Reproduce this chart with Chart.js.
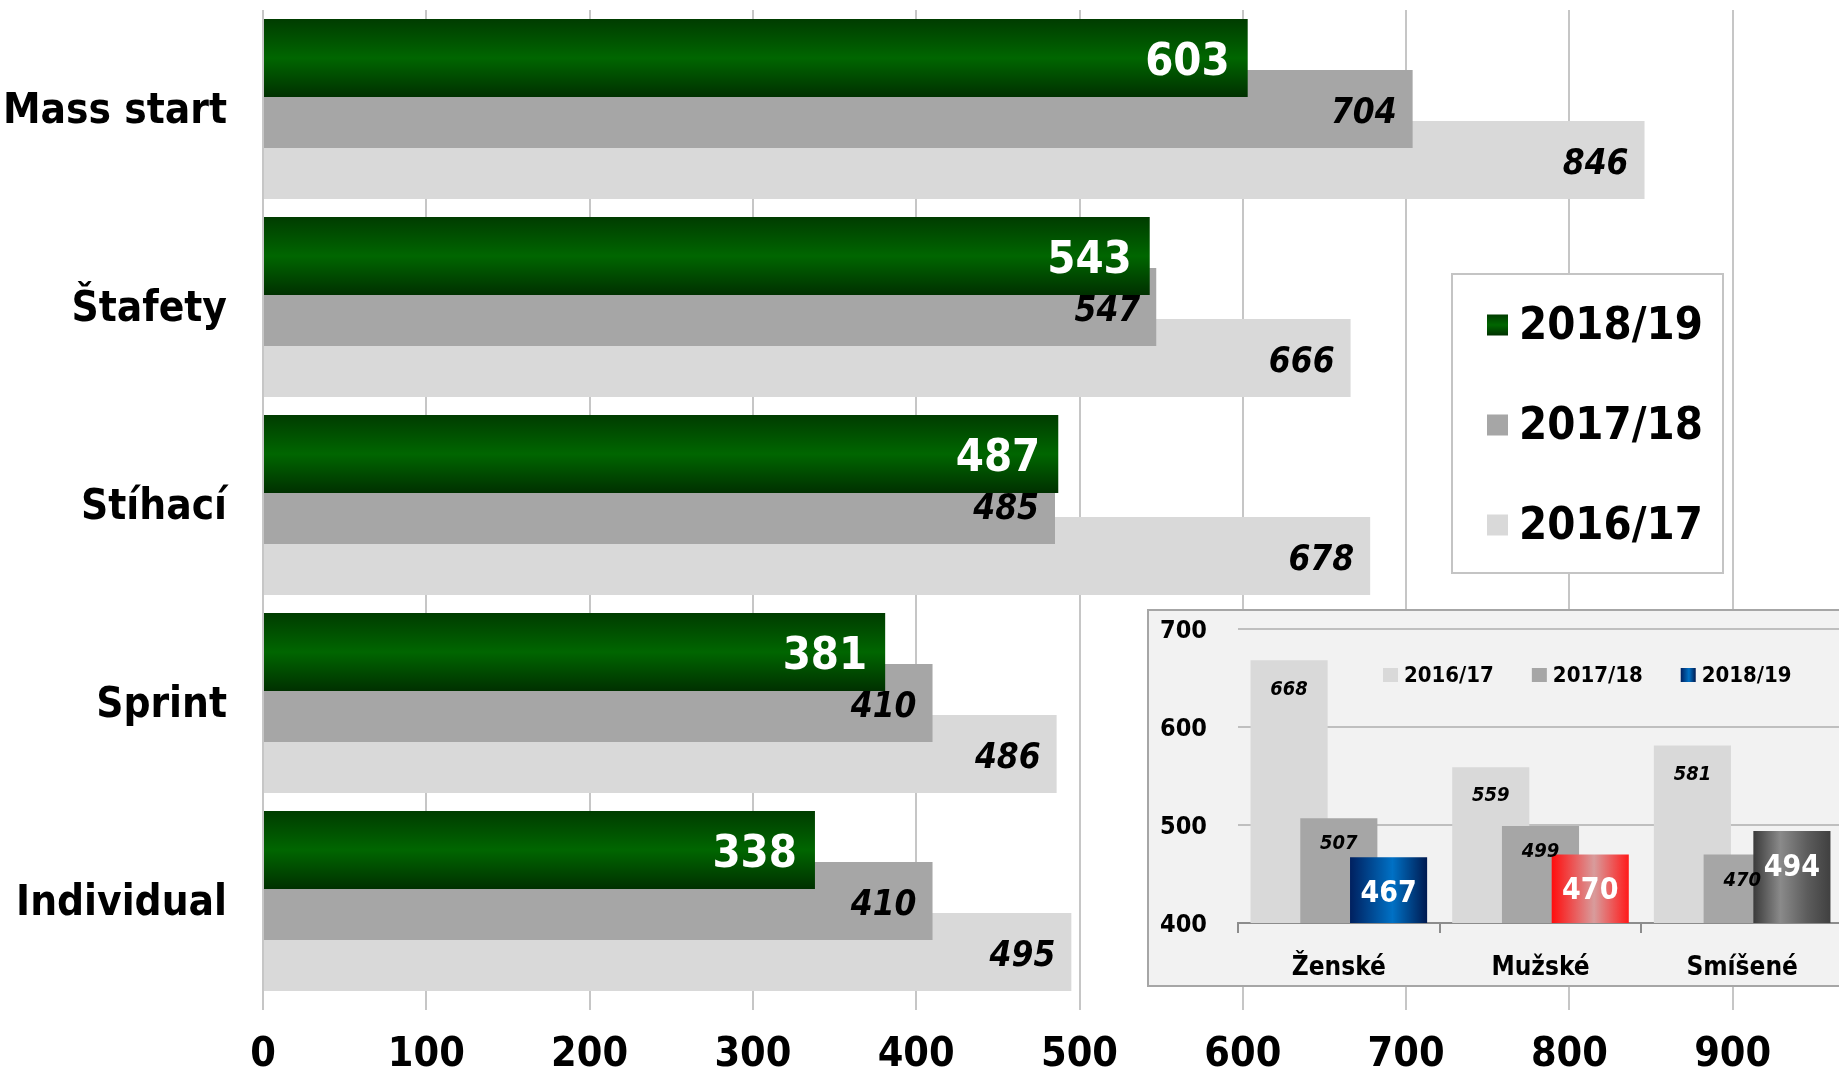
<!DOCTYPE html>
<html>
<head>
<meta charset="utf-8">
<script src="https://cdn.jsdelivr.net/npm/chart.js@4.4.0/dist/chart.umd.min.js"></script>
<style>
  html, body { margin: 0; padding: 0; background: #fff; overflow: hidden; }
  #main { position: absolute; left: 0; top: 0; width: 1905px; height: 1068px; }
  #insetBox { position: absolute; left: 1147px; top: 609px; width: 700px; height: 378px;
              box-sizing: border-box; border: 2px solid #a6a6a6; background: #f2f2f2; }
  #inset { position: absolute; left: 0; top: 0; width: 696px; height: 374px; }
</style>
</head>
<body>
<div id="main"><canvas id="mainChart"></canvas></div>
<div id="insetBox"><div id="inset"><canvas id="insetChart"></canvas></div></div>
<script>
// hlavni graf - disciplíny
const categories = ["Mass start", "Štafety", "Stíhací", "Sprint", "Individual"];
const seasons = ["2018/19", "2017/18", "2016/17"];
const s1819 = [603, 543, 487, 381, 338];
const s1718 = [704, 547, 485, 410, 410];
const s1617 = [846, 666, 678, 486, 495];
const xTicksMax = 1000;

// maly graf - ženské / mužské / smíšené
const insetCategories = ["Ženské", "Mužské", "Smíšené"];
const insetSeasons = ["2016/17", "2017/18", "2018/19"];
const in1617 = [668, 559, 581];
const in1718 = [507, 499, 470];
const in1819 = [467, 470, 494];

const FONT = '"DejaVu Sans Condensed", "DejaVu Sans", sans-serif';

const GREEN_STOPS = [[0, "#003c00"], [0.5, "#006600"], [1, "#003000"]];
const INSET_STOPS = [
    [[0, "#00205f"], [0.55, "#0071c5"], [1, "#001a50"]],
    [[0, "#ff0d0d"], [0.55, "#d89c9c"], [1, "#ff1a1a"]],
    [[0, "#3a3a3a"], [0.35, "#8a8a8a"], [0.7, "#5c5c5c"], [1, "#404040"]]
];

function makeGrad(ctx, x0, y0, x1, y1, stops) {
    const g = ctx.createLinearGradient(x0, y0, x1, y1);
    stops.forEach(s => g.addColorStop(s[0], s[1]));
    return g;
}

// pozice sloupce podle osy (stejny vypocet jako Chart.js grouped bars)
function barSpan(chart, axisId, dsIndex, dataIndex, nSets, catPct, barPct) {
    const scale = chart.scales[axisId];
    const len = scale.isHorizontal() ? scale.width : scale.height;
    const slot = len / scale.getLabels().length;
    const chunk = slot * catPct / nSets;
    const center = scale.getPixelForValue(dataIndex) + (dsIndex - (nSets - 1) / 2) * chunk;
    const size = chunk * barPct;
    return [center - size / 2, center + size / 2];
}

const MAIN_CAT = 0.7727, MAIN_BAR = 1.529;
const INSET_CAT = 0.74, INSET_BAR = 1.55;

const mainLabels = {
    id: "mainLabels",
    afterDatasetsDraw(chart) {
        const ctx = chart.ctx;
        ctx.save();
        ctx.textAlign = "right";
        ctx.textBaseline = "middle";
        chart.data.datasets.forEach((ds, i) => {
            const meta = chart.getDatasetMeta(i);
            ctx.font = i === 0 ? `bold 45px ${FONT}` : `italic bold 35px ${FONT}`;
            ctx.fillStyle = i === 0 ? "#ffffff" : "#000000";
            meta.data.forEach((bar, j) => {
                ctx.fillText(ds.data[j], bar.x - (i === 0 ? 18 : 16), bar.y + 5);
            });
        });
        ctx.restore();
    }
};

const mainLegend = {
    id: "mainLegend",
    afterDraw(chart) {
        const ctx = chart.ctx;
        ctx.save();
        ctx.fillStyle = "#ffffff";
        ctx.strokeStyle = "#c4c4c4";
        ctx.lineWidth = 2;
        ctx.fillRect(1452, 274, 271, 299);
        ctx.strokeRect(1452, 274, 271, 299);
        ctx.font = `bold 45px ${FONT}`;
        ctx.textAlign = "left";
        ctx.textBaseline = "middle";
        chart.data.datasets.forEach((ds, i) => {
            const cy = 324.5 + i * 100;
            ctx.fillStyle = i === 0 ? makeGrad(ctx, 0, cy - 10, 0, cy + 11, GREEN_STOPS) : ds.backgroundColor;
            ctx.fillRect(1487, cy - 10, 21, 21);
            ctx.fillStyle = "#000000";
            ctx.fillText(ds.label, 1519, cy + 3);
        });
        ctx.restore();
    }
};

new Chart(document.getElementById("mainChart"), {
    type: "bar",
    data: {
        labels: categories,
        datasets: [
            {
                label: seasons[0],
                data: s1819,
                backgroundColor: (c) => {
                    if (c.dataIndex === undefined || !c.chart.chartArea) return "#006600";
                    const [a, b] = barSpan(c.chart, "y", 0, c.dataIndex, 3, MAIN_CAT, MAIN_BAR);
                    return makeGrad(c.chart.ctx, 0, a, 0, b, GREEN_STOPS);
                }
            },
            { label: seasons[1], data: s1718, backgroundColor: "#a6a6a6" },
            { label: seasons[2], data: s1617, backgroundColor: "#d9d9d9" }
        ]
    },
    options: {
        indexAxis: "y",
        responsive: true,
        maintainAspectRatio: false,
        animation: false,
        categoryPercentage: MAIN_CAT,
        barPercentage: MAIN_BAR,
        layout: { padding: { top: 10, right: 9, left: 0, bottom: 0 } },
        plugins: { legend: { display: false }, tooltip: { enabled: false } },
        scales: {
            x: {
                min: 0,
                max: xTicksMax,
                ticks: { stepSize: 100, color: "#000", padding: 21, font: { family: FONT, size: 41, weight: "bold" } },
                grid: { color: "#c6c6c6", lineWidth: 2, tickLength: 10 },
                border: { display: false },
                afterFit(scale) { scale.height = 68; scale.paddingLeft = 0; scale.paddingRight = 0; }
            },
            y: {
                ticks: { color: "#000", padding: 28, labelOffset: 3, font: { family: FONT, size: 42, weight: "bold" } },
                grid: { display: false },
                border: { display: false },
                afterFit(scale) { scale.width = 263; scale.paddingTop = 0; scale.paddingBottom = 0; }
            }
        }
    },
    plugins: [mainLabels, mainLegend]
});

// maly graf - sloupce kreslit zleva doprava, pravy navrchu
const drawInOrder = {
    id: "drawInOrder",
    beforeDatasetsDraw(chart) {
        const ctx = chart.ctx;
        const a = chart.chartArea;
        ctx.save();
        ctx.beginPath();
        ctx.rect(a.left, a.top, a.right - a.left, a.bottom - a.top);
        ctx.clip();
        chart.data.datasets.forEach((ds, i) => chart.getDatasetMeta(i).controller.draw());
        ctx.restore();
        return false;
    }
};

const insetLabels = {
    id: "insetLabels",
    afterDraw(chart) {
        const ctx = chart.ctx;
        ctx.save();
        ctx.textAlign = "center";
        ctx.textBaseline = "middle";
        chart.data.datasets.forEach((ds, i) => {
            const meta = chart.getDatasetMeta(i);
            meta.data.forEach((bar, j) => {
                if (i === 2) {
                    ctx.font = `bold 30px ${FONT}`;
                    ctx.fillStyle = "#ffffff";
                    ctx.fillText(ds.data[j], bar.x, bar.y + 37);
                } else {
                    ctx.font = `italic bold 20px ${FONT}`;
                    ctx.fillStyle = "#000000";
                    ctx.fillText(ds.data[j], bar.x, bar.y + (i === 0 ? 29 : 26));
                }
            });
        });
        // legenda
        ctx.font = `bold 22px ${FONT}`;
        ctx.textAlign = "left";
        let x = 234;
        const cy = 64;
        chart.data.datasets.forEach((ds, i) => {
            ctx.fillStyle = i === 2 ? makeGrad(ctx, x, 0, x + 15, 0, INSET_STOPS[0]) : ds.backgroundColor;
            ctx.fillRect(x, cy - 7, 15, 14);
            ctx.fillStyle = "#000000";
            ctx.fillText(ds.label, x + 21, cy + 1);
            x += 21 + ctx.measureText(ds.label).width + 38;
        });
        ctx.restore();
    }
};

new Chart(document.getElementById("insetChart"), {
    type: "bar",
    data: {
        labels: insetCategories,
        datasets: [
            { label: insetSeasons[0], data: in1617, backgroundColor: "#d9d9d9" },
            { label: insetSeasons[1], data: in1718, backgroundColor: "#a6a6a6" },
            {
                label: insetSeasons[2],
                data: in1819,
                backgroundColor: (c) => {
                    if (c.dataIndex === undefined || !c.chart.chartArea) return "#0070c0";
                    const [a, b] = barSpan(c.chart, "x", 2, c.dataIndex, 3, INSET_CAT, INSET_BAR);
                    return makeGrad(c.chart.ctx, a, 0, b, 0, INSET_STOPS[c.dataIndex]);
                }
            }
        ]
    },
    options: {
        responsive: true,
        maintainAspectRatio: false,
        animation: false,
        categoryPercentage: INSET_CAT,
        barPercentage: INSET_BAR,
        layout: { padding: { top: 18, right: 2, left: 0, bottom: 0 } },
        plugins: { legend: { display: false }, tooltip: { enabled: false } },
        scales: {
            y: {
                min: 400,
                max: 700,
                ticks: { stepSize: 100, color: "#000", padding: 31, labelOffset: 2, font: { family: FONT, size: 25, weight: "bold" } },
                grid: { color: "#bfbfbf", lineWidth: 2, drawTicks: false },
                border: { display: false },
                afterFit(scale) { scale.width = 89; scale.paddingTop = 0; scale.paddingBottom = 0; }
            },
            x: {
                ticks: { color: "#000", padding: 20, font: { family: FONT, size: 26, weight: "bold" } },
                grid: { drawOnChartArea: false, color: "#8c8c8c", lineWidth: 2, tickLength: 10 },
                border: { display: true, color: "#8c8c8c", width: 2 },
                afterFit(scale) { scale.height = 62; scale.paddingLeft = 0; scale.paddingRight = 0; }
            }
        }
    },
    plugins: [drawInOrder, insetLabels]
});
</script>
</body>
</html>
